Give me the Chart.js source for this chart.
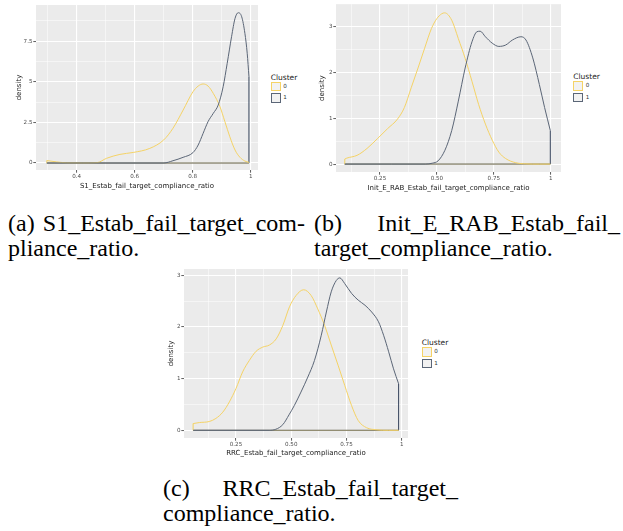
<!DOCTYPE html>
<html>
<head>
<meta charset="utf-8">
<script src="https://cdn.jsdelivr.net/npm/chart.js@4.4.1/dist/chart.umd.min.js"></script>
<style>
    body { margin: 0; background: #fff; }
    #page { position: relative; width: 623px; height: 531px; overflow: hidden; }
    canvas { position: absolute; }
    .legend { position: absolute; font-family: "DejaVu Sans", sans-serif; color: #1a1a1a; }
    .legend .lt { position: absolute; left: 0; top: 0; font-size: 7.5px; line-height: 9px; white-space: nowrap; }
    .legend .lk { position: absolute; left: 0; width: 10px; height: 9.5px; box-sizing: border-box; border: 1px solid; background: #F2F2F2; }
    .legend .ll { position: absolute; left: 12.5px; font-size: 5.6px; line-height: 9.5px; color: #333; }
    .cap { position: absolute; font-family: "Liberation Serif", "Times New Roman", serif; font-size: 24px; line-height: 25px; color: #000; white-space: nowrap; }
    .cap.just { display: flex; justify-content: space-between; }
</style>
</head>
<body>
<div id="page">
    <canvas id="chartA" width="262" height="196" style="left:0px; top:0px;"></canvas>
    <canvas id="chartB" width="255" height="196" style="left:310px; top:0px;"></canvas>
    <canvas id="chartC" width="262" height="196" style="left:150px; top:262px;"></canvas>

    <div class="cap just" style="left:8px; top:211px; width:297px;"><span>(a)</span><span>S1_Estab_fail_target_com-</span></div>
    <div class="cap" style="left:8px; top:236px;">pliance_ratio.</div>
    <div class="cap just" style="left:314px; top:211px; width:306px;"><span>(b)</span><span>Init_E_RAB_Estab_fail_</span></div>
    <div class="cap" style="left:314px; top:236px;">target_compliance_ratio.</div>
    <div class="cap just" style="left:163px; top:476px; width:295px;"><span>(c)</span><span>RRC_Estab_fail_target_</span></div>
    <div class="cap" style="left:163px; top:501px;">compliance_ratio.</div>
</div>
<script>
// cluster labels and line colours
const clusters = ['0', '1'];
const clusterColors = ['#F5D366', '#5B6677'];
const baseColors = ['rgba(245, 211, 102, 0.45)', '#34425A'];

// (a) S1_Estab_fail_target_compliance_ratio
const s1X0 = [0.297, 0.33, 0.365, 0.42, 0.47, 0.503, 0.549, 0.595, 0.652, 0.7, 0.732, 0.767, 0.801, 0.819, 0.836, 0.853, 0.871, 0.894, 0.911, 0.928, 0.946, 0.963, 0.98, 0.994];
const s1Y0 = [0.15, 0.07, 0.01, 0, 0.02, 0.29, 0.53, 0.65, 0.9, 1.42, 2.14, 3.26, 4.39, 4.74, 4.87, 4.74, 4.29, 3.47, 2.55, 1.62, 0.8, 0.35, 0.12, 0.04];
const s1X1 = [0.297, 0.5, 0.7, 0.732, 0.767, 0.801, 0.819, 0.836, 0.853, 0.871, 0.888, 0.905, 0.919, 0.934, 0.946, 0.957, 0.969, 0.98, 0.988, 0.994];
const s1Y1 = [0, 0, 0, 0.14, 0.35, 0.64, 1.11, 1.83, 2.55, 3.06, 3.57, 4.7, 6.14, 7.78, 8.91, 9.26, 9.01, 7.99, 6.76, 5.32];
const s1XTicks = [0.4, 0.6, 0.8, 1];
const s1XLabels = ['0.4', '0.6', '0.8', '1'];
const s1XMinor = [0.3, 0.5, 0.7, 0.9];
const s1YTicks = [0, 2.5, 5, 7.5];
const s1YLabels = ['0', '2.5', '5', '7.5'];
const s1YMinor = [1.25, 3.75, 6.25, 8.75];

// (b) Init_E_RAB_Estab_fail_target_compliance_ratio
const irX0 = [0.095, 0.104, 0.149, 0.193, 0.238, 0.283, 0.327, 0.357, 0.387, 0.417, 0.446, 0.476, 0.499, 0.521, 0.534, 0.565, 0.594, 0.624, 0.654, 0.683, 0.713, 0.743, 0.772, 0.802, 0.846, 0.891, 0.95, 0.998];
const irY0 = [0.11, 0.13, 0.19, 0.34, 0.55, 0.77, 0.98, 1.23, 1.66, 2.09, 2.52, 2.95, 3.16, 3.27, 3.29, 3.13, 2.73, 2.3, 1.8, 1.3, 0.87, 0.52, 0.26, 0.12, 0.03, 0.005, 0, 0];
const irX1 = [0.095, 0.3, 0.45, 0.48, 0.505, 0.535, 0.565, 0.594, 0.624, 0.654, 0.676, 0.69, 0.713, 0.743, 0.772, 0.802, 0.832, 0.869, 0.891, 0.921, 0.95, 0.973, 0.998];
const irY1 = [0, 0, 0, 0.02, 0.07, 0.3, 0.73, 1.37, 2.09, 2.66, 2.88, 2.89, 2.77, 2.63, 2.56, 2.59, 2.7, 2.77, 2.7, 2.31, 1.73, 1.23, 0.73];
const irXTicks = [0.25, 0.5, 0.75, 1];
const irXLabels = ['0.25', '0.50', '0.75', '1'];
const irXMinor = [0.125, 0.375, 0.625, 0.875];
const irYTicks = [0, 1, 2, 3];
const irYLabels = ['0', '1', '2', '3'];
const irYMinor = [0.5, 1.5, 2.5];

// (c) RRC_Estab_fail_target_compliance_ratio
const rrX0 = [0.056, 0.084, 0.129, 0.159, 0.19, 0.22, 0.25, 0.28, 0.31, 0.341, 0.371, 0.401, 0.432, 0.462, 0.492, 0.522, 0.556, 0.59, 0.62, 0.651, 0.681, 0.712, 0.742, 0.773, 0.803, 0.841, 0.887, 0.94, 0.986];
const rrY0 = [0.13, 0.15, 0.17, 0.23, 0.35, 0.55, 0.81, 1.13, 1.35, 1.53, 1.61, 1.65, 1.77, 2.03, 2.39, 2.61, 2.72, 2.61, 2.35, 2.03, 1.65, 1.26, 0.87, 0.48, 0.19, 0.05, 0.01, 0, 0];
const rrX1 = [0.056, 0.25, 0.4, 0.43, 0.462, 0.49, 0.514, 0.544, 0.575, 0.605, 0.636, 0.659, 0.681, 0.704, 0.72, 0.742, 0.773, 0.803, 0.834, 0.864, 0.895, 0.918, 0.941, 0.963, 0.986];
const rrY1 = [0, 0, 0, 0.02, 0.11, 0.3, 0.48, 0.74, 1.03, 1.35, 1.84, 2.29, 2.68, 2.9, 2.95, 2.84, 2.65, 2.52, 2.42, 2.29, 2.1, 1.84, 1.52, 1.19, 0.9];
const rrXTicks = [0.25, 0.5, 0.75, 1];
const rrXLabels = ['0.25', '0.50', '0.75', '1'];
const rrXMinor = [0.125, 0.375, 0.625, 0.875];
const rrYTicks = [0, 1, 2, 3];
const rrYLabels = ['0', '1', '2', '3'];
const rrYMinor = [0.5, 1.5, 2.5];

const panelBackground = {
    id: 'panelBackground',
    beforeDraw(chart) {
        const { ctx, chartArea } = chart;
        ctx.save();
        ctx.fillStyle = '#EBEBEB';
        ctx.fillRect(chartArea.left, chartArea.top, chartArea.width, chartArea.height);
        ctx.restore();
    },
};

const toPoints = (xs, ys) => xs.map((x, i) => ({ x: x, y: ys[i] }));

// outline of the density polygon: left edge, baseline, right edge
const edgePoints = (xs, ys) => {
    const n = xs.length - 1;
    return [
        { x: xs[0], y: ys[0] },
        { x: xs[0], y: 0 },
        { x: xs[n], y: 0 },
        { x: xs[n], y: ys[n] },
    ];
};

const isIn = (list, v) => list.some((t) => Math.abs(t - v) < 1e-9);

function makeAxis(cfg) {
    const all = cfg.ticks.concat(cfg.minor);
    return {
        type: 'linear',
        min: cfg.min,
        max: cfg.max,
        afterBuildTicks: (scale) => {
            scale.ticks = all.slice().sort((a, b) => a - b).map((v) => ({ value: v }));
        },
        afterFit: (scale) => {
            if (cfg.horizontal) {
                scale.height = cfg.size;
            } else {
                scale.width = cfg.size;
            }
        },
        border: { display: false },
        grid: {
            color: '#FFFFFF',
            lineWidth: (ctx) => (ctx.tick && isIn(cfg.ticks, ctx.tick.value) ? 1.1 : 0.5),
            tickColor: (ctx) => (ctx.tick && isIn(cfg.ticks, ctx.tick.value) ? '#333333' : 'rgba(0,0,0,0)'),
            tickLength: 2.7,
            tickWidth: 0.8,
        },
        ticks: {
            autoSkip: false,
            maxRotation: 0,
            padding: 0.8,
            color: '#4D4D4D',
            font: { family: 'DejaVu Sans', size: 5.6 },
            callback: (value) => {
                const i = cfg.ticks.findIndex((t) => Math.abs(t - value) < 1e-9);
                return i >= 0 ? cfg.labels[i] : '';
            },
        },
        title: {
            display: true,
            text: cfg.title,
            color: '#1a1a1a',
            font: { family: 'DejaVu Sans', size: 7 },
            padding: cfg.titlePadding,
        },
    };
}

function densityChart(id, series, layout) {
    const datasets = [];
    // first dataset is drawn on top
    datasets.push({
        data: toPoints(series[1].x, series[1].y),
        borderColor: clusterColors[1],
        borderWidth: 1,
        cubicInterpolationMode: 'monotone',
    });
    datasets.push({
        data: toPoints(series[0].x, series[0].y),
        borderColor: clusterColors[0],
        borderWidth: 1,
        cubicInterpolationMode: 'monotone',
    });
    datasets.push({
        data: edgePoints(series[0].x, series[0].y),
        borderColor: baseColors[0],
        borderWidth: 1,
        tension: 0,
    });
    datasets.push({
        data: edgePoints(series[1].x, series[1].y),
        borderColor: baseColors[1],
        borderWidth: 1,
        tension: 0,
    });

    new Chart(document.getElementById(id), {
        type: 'line',
        data: { datasets: datasets },
        plugins: [panelBackground],
        options: {
            responsive: false,
            animation: false,
            layout: { padding: layout.padding },
            elements: { point: { radius: 0 } },
            plugins: {
                legend: { display: false },
                tooltip: { enabled: false },
            },
            scales: {
                x: makeAxis(Object.assign({ horizontal: true }, layout.x)),
                y: makeAxis(Object.assign({ horizontal: false }, layout.y)),
            },
        },
    });
}

function addLegend(left, top, gap) {
    const el = document.createElement('div');
    el.className = 'legend';
    el.style.left = left + 'px';
    el.style.top = top + 'px';
    let html = '<div class="lt">Cluster</div>';
    clusters.forEach((c, i) => {
        const y = 9.3 + i * gap;
        html += '<div class="lk" style="top:' + y + 'px; border-color:' + clusterColors[i] + ';"></div>';
        html += '<div class="ll" style="top:' + y + 'px;">' + c + '</div>';
    });
    el.innerHTML = html;
    document.getElementById('page').appendChild(el);
}

densityChart('chartA', [{ x: s1X0, y: s1Y0 }, { x: s1X1, y: s1Y1 }], {
    padding: { left: 0, top: 5, right: 4, bottom: 0 },
    x: { min: 0.2597, max: 1.0252, ticks: s1XTicks, labels: s1XLabels, minor: s1XMinor, size: 26,
         title: 'S1_Estab_fail_target_compliance_ratio', titlePadding: { top: 0, bottom: 6 } },
    y: { min: -0.431, max: 9.735, ticks: s1YTicks, labels: s1YLabels, minor: s1YMinor, size: 36,
         title: 'density', titlePadding: { top: 14.8, bottom: 0 } },
});

densityChart('chartB', [{ x: irX0, y: irY0 }, { x: irX1, y: irY1 }], {
    padding: { left: 0, top: 2, right: 4, bottom: 0 },
    x: { min: 0.0567, max: 1.045, ticks: irXTicks, labels: irXLabels, minor: irXMinor, size: 24,
         title: 'Init_E_RAB_Estab_fail_target_compliance_ratio', titlePadding: { top: 0, bottom: 4 } },
    y: { min: -0.172, max: 3.479, ticks: irYTicks, labels: irYLabels, minor: irYMinor, size: 26,
         title: 'density', titlePadding: { top: 7.5, bottom: 0 } },
});

densityChart('chartC', [{ x: rrX0, y: rrY0 }, { x: rrX1, y: rrY1 }], {
    padding: { left: 0, top: 7, right: 4, bottom: 0 },
    x: { min: 0.0146, max: 1.0285, ticks: rrXTicks, labels: rrXLabels, minor: rrXMinor, size: 20,
         title: 'RRC_Estab_fail_target_compliance_ratio', titlePadding: { top: 0, bottom: 1.1 } },
    y: { min: -0.149, max: 3.122, ticks: rrYTicks, labels: rrYLabels, minor: rrYMinor, size: 34,
         title: 'density', titlePadding: { top: 16.5, bottom: 0 } },
});

addLegend(270.7, 72.5, 11.6);
addLegend(573.3, 71.8, 11.6);
addLegend(421.7, 337.8, 11.7);
</script>
</body>
</html>
